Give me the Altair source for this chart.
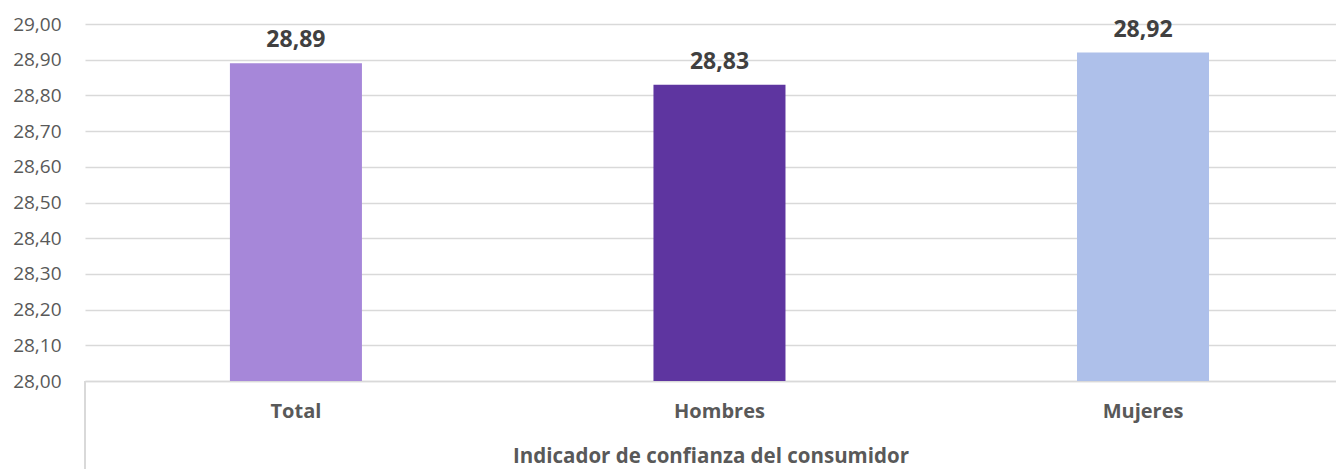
import altair as alt
import pandas as pd

categories = ["Total", "Hombres", "Mujeres"]
values = [28.89, 28.83, 28.92]
colors = ["#A687D9", "#5E35A0", "#AEC0EA"]
tick_values = [28.0, 28.1, 28.2, 28.3, 28.4, 28.5, 28.6, 28.7, 28.8, 28.9, 29.0]

df = pd.DataFrame({"cat": categories, "val": values})

W, H = 1251, 357
FONT = "Open Sans"

x = alt.X("cat:N", sort=categories,
          scale=alt.Scale(paddingInner=0.6883, paddingOuter=0.321, align=0.533),
          axis=alt.Axis(title="Indicador de confianza del consumidor", labelAngle=0,
                        labelFontWeight="bold", labelFontSize=20, labelColor="#595959",
                        labelFont=FONT, labelPadding=20, ticks=False,
                        domainColor="#d9d9d9", domainWidth=1.5,
                        titleFont=FONT, titleFontSize=20.5, titleFontWeight="bold",
                        titleColor="#595959", titlePadding=25))
y = alt.Y("val:Q", scale=alt.Scale(domain=[28.0, 29.0], zero=False, nice=False),
          axis=alt.Axis(title=None, values=tick_values, tickCount=20,
                        labelExpr="replace(format(datum.value, '.2f'), '.', ',')",
                        labelFont=FONT, labelFontSize=19, labelColor="#595959",
                        labelPadding=24, ticks=False, domain=False, labelOverlap=False,
                        labelFlush=False,
                        gridColor="#d9d9d9", gridWidth=1.5))

bars = alt.Chart(df).mark_bar().encode(
    x=x, y=y, y2=alt.Y2(datum=28.0),
    color=alt.Color("cat:N", sort=categories,
                    scale=alt.Scale(domain=categories, range=colors), legend=None),
)

labels = alt.Chart(df).mark_text(
    baseline="bottom", dy=-11, font=FONT, fontSize=23, fontWeight="bold", color="#404040"
).encode(
    x=x,
    y=y,
    text=alt.Text("label:N"),
).transform_calculate(label="replace(format(datum.val, '.2f'), '.', ',')")

vline = alt.Chart(df).mark_rule(color="#d9d9d9", strokeWidth=1.5).encode(
    x=alt.value(0), y=alt.value(H), y2=alt.value(H + 100)
)

chart = alt.layer(bars, labels, vline).properties(
    width=W, height=H,
    autosize=alt.AutoSizeParams(type="none"),
    padding={"left": 77, "top": 16, "right": 0, "bottom": 88},
).configure_view(stroke=None).configure_axis(gridCap="butt")

chart.save("out.html", embed_options={"renderer": "svg", "actions": False})
